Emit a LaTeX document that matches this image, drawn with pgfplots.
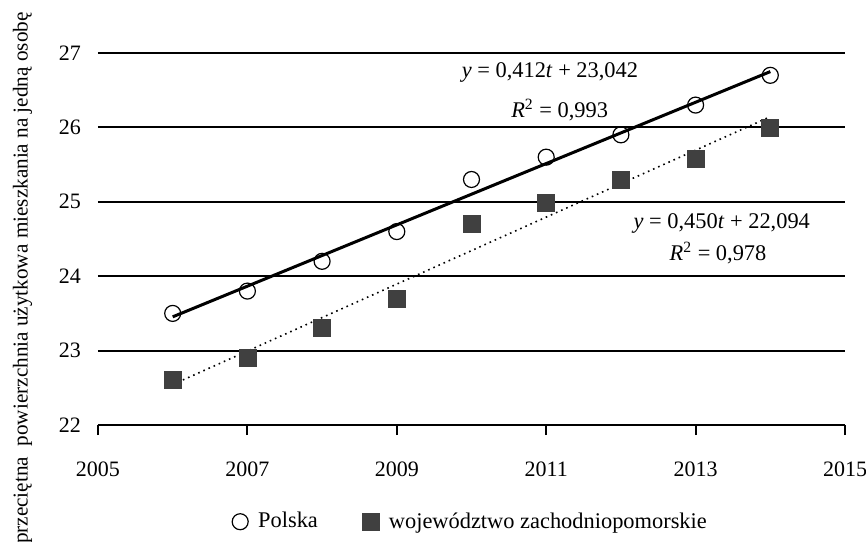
\documentclass[border=0pt]{standalone}
\usepackage{fontspec}
\setmainfont{Liberation Serif}
\usepackage{pgfplots}
\pgfplotsset{compat=1.18}
\definecolor{sqfill}{HTML}{404040}
\begin{document}
\begin{tikzpicture}
\begin{axis}[name=ax, scale only axis, width=373.5pt, height=186pt,
  xmin=2005, xmax=2015, ymin=22, ymax=27,
  axis x line*=bottom, axis y line*=left,
  y axis line style={draw=none},
  x axis line style={line width=1pt},
  xtick={2005,2007,...,2015}, ytick={22,23,...,27},
  tick align=outside, major tick length=5pt,
  xtick style={line width=1pt, black},
  ytick style={draw=none},
  ymajorgrids, grid style={line width=1pt, black},
  /pgf/number format/assume math mode=true,
  /pgf/number format/1000 sep={},
  ticklabel style={font=\fontsize{11}{13}\selectfont},
  xticklabel style={yshift=-10pt},
  yticklabel style={xshift=0pt},
  legend style={at={(0.5,-0.26)}, anchor=center, draw=none, font=\fontsize{11.2}{13}\selectfont,
    legend columns=2,
    /tikz/every odd column/.append style={column sep=3pt},
    /tikz/every even column/.append style={column sep=20pt}},
  legend cell align=left,
  clip=false,
]
\addplot[only marks, mark=o, mark size=4pt, black, line width=0.6pt]
  coordinates {(2006,23.5) (2007,23.8) (2008,24.2) (2009,24.6) (2010,25.3) (2011,25.6) (2012,25.9) (2013,26.3) (2014,26.7)};
\addlegendentry{Polska}
\addplot[only marks, mark=square*, mark size=4.25pt, draw=sqfill, fill=sqfill]
  coordinates {(2006,22.6) (2007,22.9) (2008,23.3) (2009,23.7) (2010,24.7) (2011,24.98) (2012,25.3) (2013,25.57) (2014,26.0)};
\addlegendentry{województwo zachodniopomorskie}
\addplot[forget plot, black, line width=1.5pt] coordinates {(2006,23.454) (2014,26.75)};
\addplot[forget plot, black, line width=0.8pt, dotted] coordinates {(2006,22.544) (2014,26.144)};
\node[font=\fontsize{11.2}{13}\selectfont] at (axis cs:2011.05,26.745) {\textit{y} = 0,412\textit{t} + 23,042};
\node[font=\fontsize{11.2}{13}\selectfont] at (axis cs:2011.18,26.23) {\textit{R}\textsuperscript{2} = 0,993};
\node[font=\fontsize{11.2}{13}\selectfont] at (axis cs:2013.35,24.715) {\textit{y} = 0,450\textit{t} + 22,094};
\node[font=\fontsize{11.2}{13}\selectfont] at (axis cs:2013.3,24.31) {\textit{R}\textsuperscript{2} = 0,978};
\end{axis}
\node[rotate=90, anchor=east, inner sep=0pt, font=\fontsize{10.6}{13}\selectfont] at ([xshift=-37.75pt,yshift=206.5pt]ax.south west) {przeciętna\ \ powierzchnia użytkowa mieszkania na jedną osobę};
\pgfresetboundingbox
\path[use as bounding box] ([xshift=-49pt,yshift=-58pt]ax.south west) rectangle ([xshift=384pt,yshift=212.5pt]ax.south west);
\end{tikzpicture}
\end{document}
